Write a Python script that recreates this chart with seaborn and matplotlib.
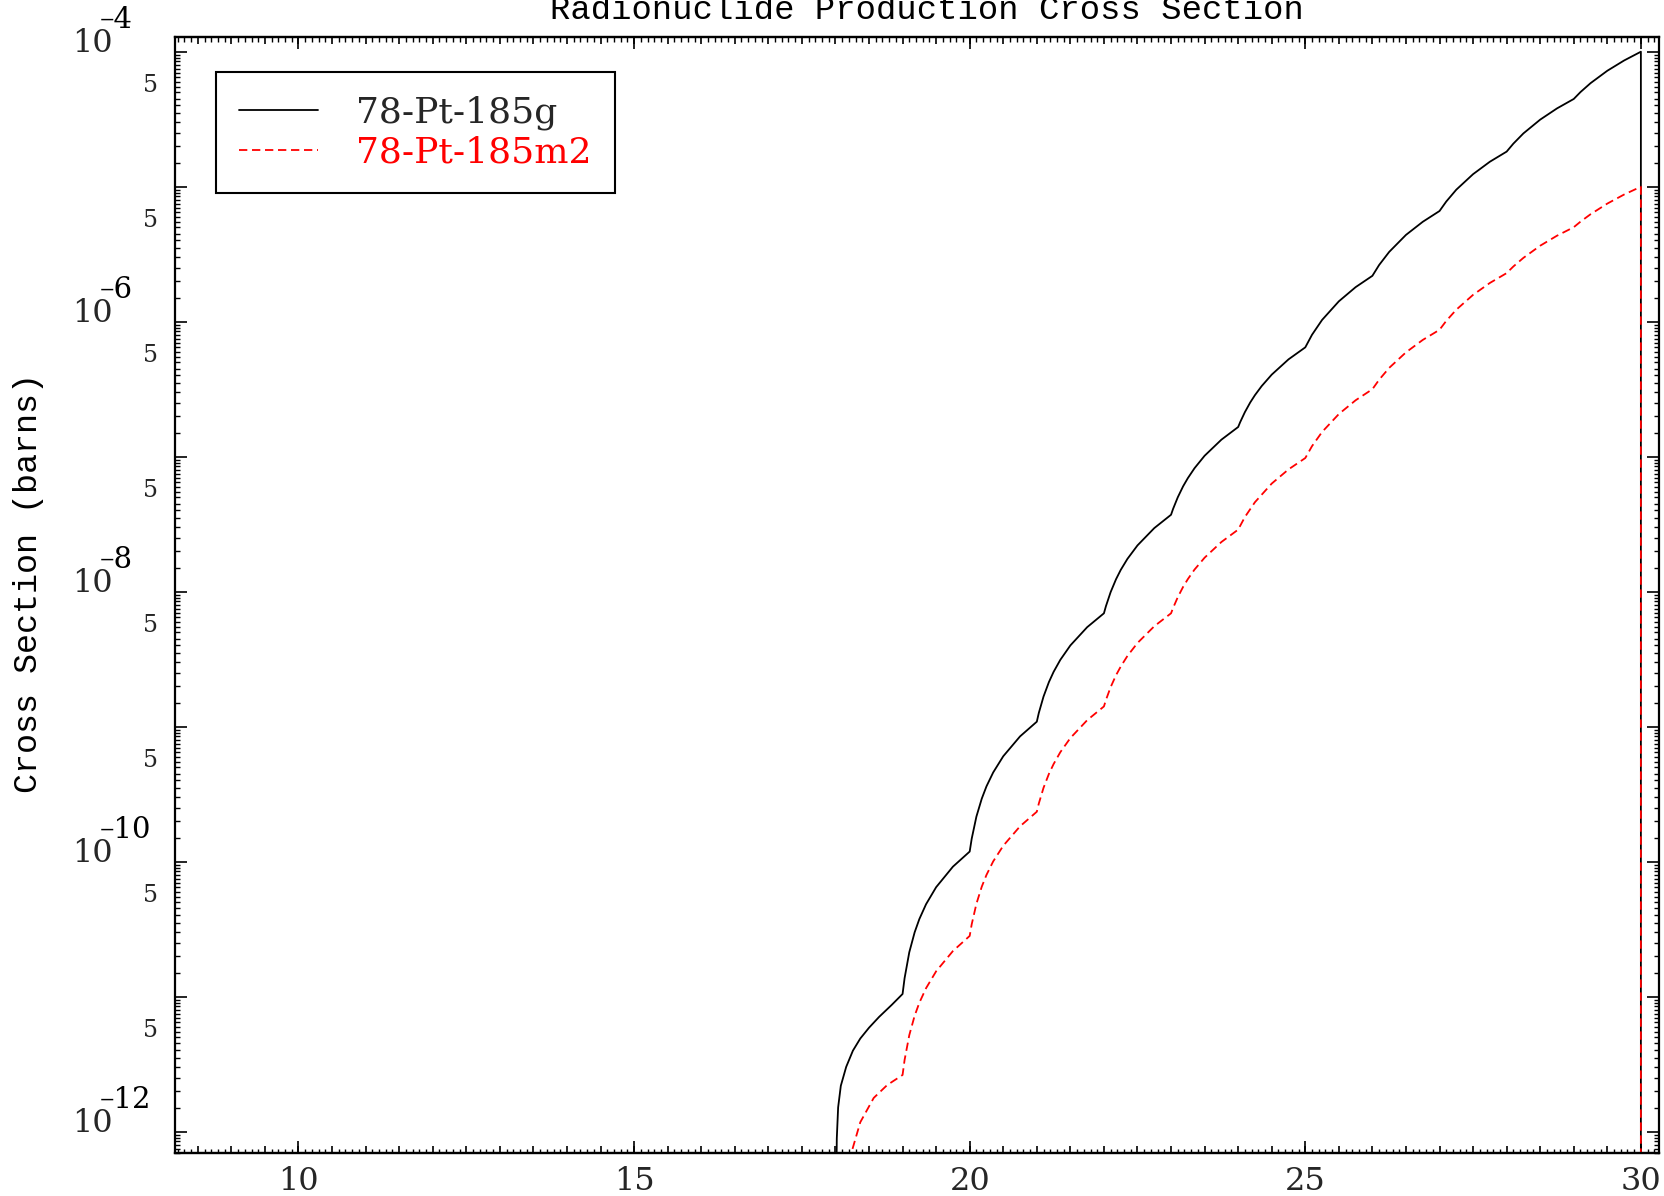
import numpy as np
import pandas as pd
import matplotlib
matplotlib.use("Agg")
import matplotlib.pyplot as plt
import matplotlib.ticker as mticker
import matplotlib.transforms as mtransforms
import seaborn as sns

# ---------------- data (log10 of cross section, barns) ----
energy_g = [18.00, 18.02, 18.04, 18.08, 18.16, 18.26, 18.37, 18.50, 18.65, 18.84,
            19.00, 19.03, 19.10, 19.18, 19.25, 19.35, 19.50, 19.75,
            20.00, 20.03, 20.10, 20.18, 20.25, 20.35, 20.50, 20.75,
            21.00, 21.03, 21.10, 21.18, 21.25, 21.35, 21.50, 21.75,
            22.00, 22.03, 22.10, 22.18, 22.25, 22.35, 22.50, 22.75,
            23.00, 23.03, 23.10, 23.18, 23.25, 23.35, 23.50, 23.75,
            24.00, 24.03, 24.10, 24.18, 24.25, 24.35, 24.50, 24.75,
            25.00, 25.10, 25.25, 25.50, 25.75,
            26.00, 26.10, 26.25, 26.50, 26.75,
            27.00, 27.10, 27.25, 27.50, 27.75,
            28.00, 28.10, 28.25, 28.50, 28.75,
            29.00, 29.10, 29.25, 29.50, 29.75,
            30.00, 30.00]
logxs_g = [-13.0, -12.05, -11.82, -11.66, -11.52, -11.40, -11.31, -11.23, -11.15, -11.06,
           -10.98, -10.863, -10.671, -10.523, -10.425, -10.315, -10.189, -10.037,
           -9.925, -9.830, -9.666, -9.533, -9.442, -9.339, -9.219, -9.072,
           -8.963, -8.898, -8.777, -8.670, -8.594, -8.505, -8.398, -8.263,
           -8.16, -8.107, -8.003, -7.908, -7.839, -7.757, -7.657, -7.529,
           -7.43, -7.387, -7.301, -7.219, -7.159, -7.085, -6.993, -6.874,
           -6.78, -6.744, -6.670, -6.598, -6.544, -6.477, -6.392, -6.279,
           -6.19, -6.097, -5.987, -5.849, -5.744,
           -5.66, -5.580, -5.483, -5.357, -5.260,
           -5.18, -5.110, -5.022, -4.907, -4.815,
           -4.74, -4.681, -4.605, -4.503, -4.420,
           -4.35, -4.299, -4.233, -4.141, -4.065,
           -4.00, -20.0]

energy_m2 = [18.20, 18.37, 18.57, 18.77,
             19.00, 19.03, 19.10, 19.18, 19.25, 19.35, 19.50, 19.75,
             20.00, 20.03, 20.10, 20.18, 20.25, 20.35, 20.50, 20.75,
             21.00, 21.03, 21.10, 21.18, 21.25, 21.35, 21.50, 21.75,
             22.00, 22.03, 22.10, 22.18, 22.25, 22.35, 22.50, 22.75,
             23.00, 23.03, 23.10, 23.18, 23.25, 23.35, 23.50, 23.75,
             24.00, 24.10, 24.25, 24.50, 24.75,
             25.00, 25.10, 25.25, 25.50, 25.75,
             26.00, 26.10, 26.25, 26.50, 26.75,
             27.00, 27.10, 27.25, 27.50, 27.75,
             28.00, 28.10, 28.25, 28.50, 28.75,
             29.00, 29.10, 29.25, 29.50, 29.75,
             30.00, 30.00]
logxs_m2 = [-12.22, -11.93, -11.75, -11.655,
            -11.58, -11.469, -11.285, -11.141, -11.045, -10.937, -10.812, -10.662,
            -10.55, -10.464, -10.312, -10.185, -10.098, -9.998, -9.882, -9.738,
            -9.63, -9.569, -9.453, -9.350, -9.277, -9.189, -9.084, -8.952,
            -8.85, -8.802, -8.707, -8.619, -8.555, -8.476, -8.380, -8.256,
            -8.16, -8.121, -8.041, -7.964, -7.907, -7.836, -7.748, -7.632,
            -7.54, -7.447, -7.337, -7.199, -7.094,
            -7.01, -6.922, -6.817, -6.684, -6.582,
            -6.50, -6.430, -6.342, -6.227, -6.135,
            -6.06, -5.994, -5.911, -5.801, -5.713,
            -5.64, -5.591, -5.527, -5.437, -5.363,
            -5.30, -5.259, -5.204, -5.125, -5.058,
            -5.00, -20.0]

labels = ["78-Pt-185g", "78-Pt-185m2"]
colors = ["black", "red"]
title = "Radionuclide Production Cross Section"
ylabel = "Cross Section (barns)"
x_major = [10, 15, 20, 25, 30]
y_labelled_exponents = [-4, -6, -8, -10, -12]

# ---------------- build tidy frames ----------------
df_g = pd.DataFrame({"E": energy_g, "xs": np.power(10.0, logxs_g)})
df_m = pd.DataFrame({"E": energy_m2, "xs": np.power(10.0, logxs_m2)})

sns.set_theme(style="white")
plt.rcParams["font.family"] = ["DejaVu Serif", "DejaVu Sans"]

PX = 72.0 / 100.0  # points per pixel at dpi 100

fig = plt.figure(figsize=(16.65, 11.96), dpi=100)
fig.patch.set_facecolor("white")
ax = fig.add_axes([175 / 1665, 1 - 1153 / 1196, (1659 - 175) / 1665, (1153 - 37) / 1196])
ax.set_facecolor("white")

sns.lineplot(data=df_g, x="E", y="xs", ax=ax, color=colors[0], lw=1.3,
             estimator=None, sort=False, label=labels[0])
sns.lineplot(data=df_m, x="E", y="xs", ax=ax, color=colors[1], lw=1.3,
             estimator=None, sort=False, label=labels[1])
ax.lines[1].set_linestyle((0, (4.6, 2.6)))

ax.set_yscale("log")
ax.set_xlim(8.16, 30.27)
ax.set_ylim(10 ** -12.158, 10 ** -3.891)
ax.set_xlabel("")
ax.set_ylabel("")

for s in ax.spines.values():
    s.set_linewidth(1.6)
    s.set_color("black")

# ---- x ticks: long at multiples of 5, medium at 0.5, short at 0.1
ax.xaxis.set_major_locator(mticker.MultipleLocator(0.5))
ax.xaxis.set_minor_locator(mticker.MultipleLocator(0.1))
ax.xaxis.set_major_formatter(mticker.FuncFormatter(
    lambda v, p: f"{int(round(v))}" if abs(v / 5 - round(v / 5)) < 1e-6 else ""))
ax.tick_params(axis="x", which="major", direction="in", length=7 * PX, width=1.2,
               top=True, bottom=True, labelsize=23, pad=13 * PX, color="black")
ax.tick_params(axis="x", which="minor", direction="in", length=4.5 * PX, width=1.0,
               top=True, bottom=True, color="black")
for loc in ("bottom", "top"):
    sec = ax.secondary_xaxis(loc)
    sec.set_xticks(x_major)
    sec.tick_params(direction="in", length=12 * PX, width=1.2, color="black",
                    labelbottom=False, labeltop=False)
    sec.spines[loc].set_linewidth(1.6)

# ---- y ticks
ax.yaxis.set_major_locator(mticker.LogLocator(base=10, numticks=30))
ax.yaxis.set_minor_locator(mticker.LogLocator(base=10, subs=np.arange(1.5, 10, 0.5), numticks=30))


def major_fmt(v, p):
    e = int(round(np.log10(v)))
    return "10" if e in y_labelled_exponents else ""


def minor_fmt(v, p):
    e = np.floor(np.log10(v) + 1e-9)
    m = v / 10 ** e
    return "5" if abs(m - 5) < 1e-6 else ""


ax.yaxis.set_major_formatter(mticker.FuncFormatter(major_fmt))
ax.yaxis.set_minor_formatter(mticker.FuncFormatter(minor_fmt))
ax.tick_params(axis="y", which="major", direction="in", length=12 * PX, width=1.2,
               left=True, right=True, labelsize=23, pad=103 * PX, color="black")
ax.tick_params(axis="y", which="minor", direction="in", length=5 * PX, width=1.0,
               left=True, right=True, labelsize=17, pad=17 * PX, color="black")
fig.canvas.draw()
for t in ax.yaxis.get_major_ticks():
    t.label1.set_horizontalalignment("left")
    t.label1.set_verticalalignment("baseline")
for t in ax.yaxis.get_minor_ticks():
    t.label1.set_verticalalignment("baseline")

# exponents of the decade labels (IDL style, large raised exponent)
exp_tr = mtransforms.blended_transform_factory(fig.transFigure, ax.transData) + \
    mtransforms.ScaledTranslation(0, 24 / 100, fig.dpi_scale_trans)
for e in y_labelled_exponents:
    ax.text(100 / 1665, 10.0 ** e, "\u2013" + str(abs(e)), transform=exp_tr,
            ha="left", va="baseline", fontsize=21, family="DejaVu Serif",
            color="black", clip_on=False)

# ---- legend
leg = ax.legend(loc="upper left", bbox_to_anchor=(0.0274, 0.9685), borderaxespad=0,
                handlelength=2.2, handletextpad=1.06, labelspacing=0.17,
                borderpad=0.64, fancybox=False, framealpha=1, edgecolor="black",
                prop={"family": "DejaVu Serif", "size": 26})
leg.get_frame().set_linewidth(1.5)
leg.get_texts()[1].set_color("red")

# ---- title and y label
fig.text(927 / 1665, 1 - 19 / 1196, title, ha="center", va="baseline",
         fontsize=24.4, family="Liberation Mono", color="black")
fig.text(29 / 1665, 1 - 583 / 1196, ylabel, ha="center", va="center", rotation=90,
         fontsize=24, family="Liberation Mono", color="black")

fig.savefig("out.png", dpi=100, facecolor="white")
